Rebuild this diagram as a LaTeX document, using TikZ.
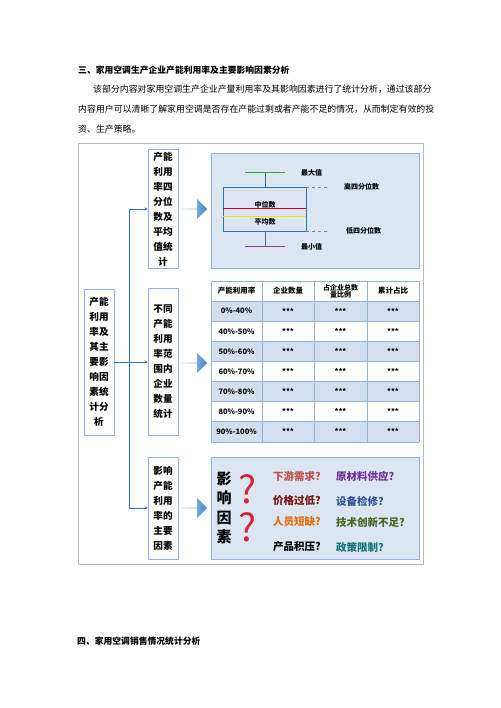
\documentclass[tikz,border=0pt]{standalone}
\usepackage{fontspec}
\setmainfont{Noto Sans CJK SC}
\usepackage{xcolor}
\usepackage{tikz}
\usetikzlibrary{shapes.arrows,arrows.meta}

\definecolor{linkblue}{HTML}{2E75B6}
\definecolor{boxline}{HTML}{8DB3E2}
\definecolor{panelfill}{HTML}{DCE6F2}
\definecolor{panelline}{HTML}{95B3D7}
\definecolor{rowfill}{HTML}{D3DFEE}
\definecolor{arrowlight}{HTML}{C9DEF2}
\definecolor{arrowdark}{HTML}{3C86CC}
\definecolor{qred}{HTML}{D0253A}
\definecolor{cdemand}{HTML}{C0504D}
\definecolor{csupply}{HTML}{7030A0}
\definecolor{cprice}{HTML}{7B1010}
\definecolor{crepair}{HTML}{2F5597}
\definecolor{cstaff}{HTML}{E46C0A}
\definecolor{ctech}{HTML}{4F6228}
\definecolor{cpolicy}{HTML}{17767A}

\tikzset{
  vbox/.style={draw=boxline, line width=0.8pt, fill=white, minimum width=30pt,
    inner sep=0pt, align=center, font=\fontsize{9.6}{15}\selectfont\bfseries},
  panel/.style={draw=panelline, fill=panelfill, line width=0.8pt},
  blockarrow/.style={single arrow, minimum height=26pt, minimum width=20pt,
    single arrow head extend=4.5pt, inner sep=0pt,
    left color=arrowlight, right color=arrowdark, draw=none},
  link/.style={draw=linkblue, line width=0.6pt},
  tip/.style={link, -{Stealth[length=3pt,width=3pt]}},
  plotlab/.style={font=\fontsize{7}{7}\selectfont\bfseries, inner sep=0pt},
  cell/.style={font=\fontsize{7.5}{8}\selectfont\bfseries, inner sep=0pt, align=center},
  cause/.style={font=\fontsize{10.5}{10.5}\selectfont\bfseries, anchor=west, inner sep=0pt},
  qmark/.style={qred, inner sep=0pt, font=\fontsize{38}{38}\selectfont},
}

\begin{document}
\begin{tikzpicture}[x=1pt,y=-1pt]
  \useasboundingbox (0,0) rectangle (500,708);

  % page text
  \node[anchor=west, inner sep=0pt, font=\fontsize{8.8}{8.8}\selectfont\bfseries] (head3) at (78,70)
    {三、家用空调生产企业产能利用率及主要影响因素分析};
  \node[anchor=west, inner sep=0pt, font=\fontsize{8.9}{8.9}\selectfont] (para1) at (93,89)
    {该部分内容对家用空调生产企业产量利用率及其影响因素进行了统计分析，通过该部分};
  \node[anchor=west, inner sep=0pt, font=\fontsize{8.9}{8.9}\selectfont] (para2) at (78,109)
    {内容用户可以清晰了解家用空调是否存在产能过剩或者产能不足的情况，从而制定有效的投};
  \node[anchor=west, inner sep=0pt, font=\fontsize{8.9}{8.9}\selectfont] (para3) at (78,129)
    {资、生产策略。};
  \node[anchor=west, inner sep=0pt, font=\fontsize{8.8}{8.8}\selectfont\bfseries] (head4) at (77,641)
    {四、家用空调销售情况统计分析};

  % outer frame
  \draw[gray!55, line width=1pt] (78,144) rectangle (423,564);

  % left and middle boxes
  \node[vbox, minimum height=146pt] (factor) at (99,362)
    {产能\\利用\\率及\\其主\\要影\\响因\\素统\\计分\\析};
  \node[vbox, minimum height=119pt] (quart) at (163,209)
    {产能\\利用\\率四\\分位\\数及\\平均\\值统\\计};
  \node[vbox, minimum height=147pt] (range) at (163,362)
    {不同\\产能\\利用\\率范\\围内\\企业\\数量\\统计};
  \node[vbox, minimum height=102pt] (cause) at (163,508)
    {影响\\产能\\利用\\率的\\主要\\因素};

  \coordinate (trunktop) at (129,209);
  \coordinate (trunkbot) at (129,508);
  \draw[link] (trunktop) -- (trunkbot);
  \draw[tip] (trunktop) -- (quart.west);
  \draw[tip] (factor.east) -- (range.west);
  \draw[tip] (trunkbot) -- (cause.west);

  \node[blockarrow] (arr1) at (194,209) {};
  \node[blockarrow] (arr2) at (194,363) {};
  \node[blockarrow] (arr3) at (194,508) {};

  % box plot panel
  \begin{scope}
  \draw[panel] (211,153) rectangle (419,268);
  \draw[linkblue, line width=0.9pt] (265,173) -- (265,187);
  \draw[linkblue, line width=0.9pt] (265,231) -- (265,247);
  \draw[green!60!black!80, line width=1pt] (245,173) -- (285,173);
  \draw[violet!80, line width=1pt] (245,247) -- (285,247);
  \draw[linkblue, line width=0.9pt, fill=panelfill] (223,187) rectangle (306,231);
  \draw[red!85!black, line width=1pt] (223,209) -- (306,209);
  \draw[yellow!80!orange, line width=1pt] (223,217) -- (306,217);
  \draw[gray, dashed, line width=0.6pt] (306,187) -- (327,187);
  \draw[gray, dashed, line width=0.6pt] (306,231) -- (327,231);
  \node[plotlab, anchor=west] (maxv) at (301,173) {最大值};
  \node[plotlab, anchor=west] (q3) at (344,187) {高四分位数};
  \node[plotlab] (median) at (265,205) {中位数};
  \node[plotlab] (mean) at (265,222) {平均数};
  \node[plotlab, anchor=west] (q1) at (346,231) {低四分位数};
  \node[plotlab, anchor=west] (minv) at (301,247) {最小值};
  \end{scope}

  % table panel
  \begin{scope}
  \fill[white] (211,281) rectangle (419,442);
  \foreach \i in {1,3,5,7}
    \fill[rowfill] (211,{301+(\i-1)*20.14}) rectangle (419,{301+\i*20.14});
  \foreach \i in {0,...,7}
    \draw[panelline, line width=0.7pt] (211,{301+\i*20.14}) -- (419,{301+\i*20.14});
  \draw[panelline, line width=0.7pt] (211,281) -- (419,281);
  \foreach \cx in {211,262,314,367,419}
    \draw[panelline, line width=0.7pt] (\cx,281) -- (\cx,442);
  \node[cell] (hrate) at (236.5,291) {产能利用率};
  \node[cell] (hnum) at (288,291) {企业数量};
  \node[cell, font=\fontsize{7}{7}\selectfont\bfseries] (hshare) at (340.5,291) {占企业总数\\量比例};
  \node[cell] (hcum) at (393,291) {累计占比};
  \foreach \lab [count=\i] in {0\%-40\%,40\%-50\%,50\%-60\%,60\%-70\%,70\%-80\%,80\%-90\%,90\%-100\%} {
    \node[cell] (r\i) at (236.5,{301+(\i-0.5)*20.14}) {\lab};
    \node[cell] at (288,{301+(\i-0.5)*20.14}) {***};
    \node[cell] at (340.5,{301+(\i-0.5)*20.14}) {***};
    \node[cell] at (393,{301+(\i-0.5)*20.14}) {***};
  }
  \end{scope}

  % causes panel
  \begin{scope}
  \draw[panel] (211,457) rectangle (419,559);
  \node[align=center, inner sep=0pt, font=\fontsize{15}{19.5}\selectfont\bfseries] (infl) at (224,508)
    {影\\响\\因\\素};
  \node[qmark] (qm1) at (248,489) {?};
  \node[qmark] (qm2) at (248,527.5) {?};
  \node[cause, cdemand] (c1) at (273,476) {下游需求?};
  \node[cause, csupply] (c2) at (336,476) {原材料供应?};
  \node[cause, cprice] (c3) at (273,501) {价格过低?};
  \node[cause, crepair] (c4) at (336,501) {设备检修?};
  \node[cause, cstaff] (c5) at (273,522) {人员短缺?};
  \node[cause, ctech] (c6) at (336,522) {技术创新不足?};
  \node[cause, black] (c7) at (273,547) {产品积压?};
  \node[cause, cpolicy] (c8) at (336,547) {政策限制?};
  \end{scope}
\end{tikzpicture}
\end{document}
